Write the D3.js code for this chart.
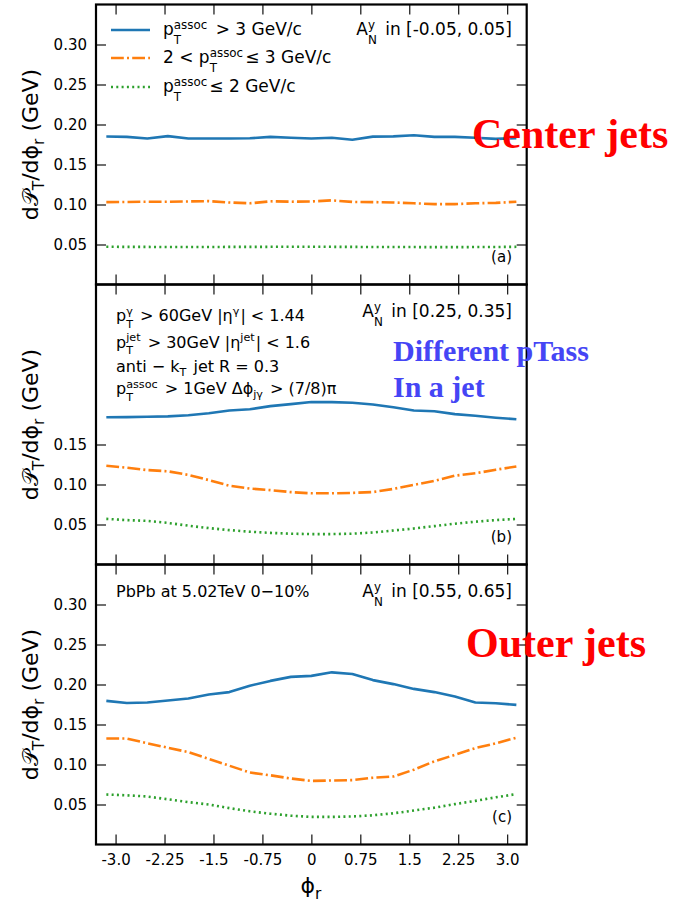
<!DOCTYPE html>
<html>
<head>
<meta charset="utf-8">
<script src="https://cdn.jsdelivr.net/npm/d3@7"></script>
<style>
  html, body { margin: 0; padding: 0; background: #fff; }
  svg text { font-family: "DejaVu Sans", sans-serif; fill: #000; }
</style>
</head>
<body>
<svg id="chart" width="692" height="902"></svg>
<script>
// phi_r sampling points (rad)
const phi = [-3.1416, -2.8274, -2.5133, -2.1991, -1.8850, -1.5708, -1.2566, -0.9425, -0.6283, -0.3142,
             0, 0.3142, 0.6283, 0.9425, 1.2566, 1.5708, 1.8850, 2.1991, 2.5133, 2.8274, 3.1416];

// (a) centre jets, A_N^y in [-0.05, 0.05]
const centerHigh = [0.1850, 0.1845, 0.1825, 0.1855, 0.1825, 0.1825, 0.1825, 0.1828, 0.1845, 0.1835, 0.1825,
                    0.1835, 0.1810, 0.1848, 0.1852, 0.1865, 0.1845, 0.1845, 0.1835, 0.1820, 0.1830];
const centerMid  = [0.1030, 0.1032, 0.1035, 0.1035, 0.1038, 0.1042, 0.1025, 0.1015, 0.1040, 0.1035, 0.1038,
                    0.1052, 0.1032, 0.1030, 0.1025, 0.1015, 0.1005, 0.1005, 0.1015, 0.1020, 0.1035];
const centerLow  = [0.0472, 0.0470, 0.0470, 0.0468, 0.0468, 0.0469, 0.0470, 0.0470, 0.0471, 0.0471, 0.0472,
                    0.0471, 0.0470, 0.0469, 0.0468, 0.0468, 0.0467, 0.0467, 0.0468, 0.0469, 0.0471];

// (b) A_N^y in [0.25, 0.35]
const midHigh = [0.1840, 0.1842, 0.1847, 0.1852, 0.1865, 0.1890, 0.1925, 0.1940, 0.1980, 0.2005, 0.2032,
                 0.2030, 0.2022, 0.2000, 0.1965, 0.1925, 0.1915, 0.1880, 0.1860, 0.1835, 0.1815];
const midMid  = [0.1235, 0.1210, 0.1180, 0.1165, 0.1120, 0.1055, 0.0985, 0.0950, 0.0930, 0.0905, 0.0890,
                 0.0890, 0.0895, 0.0905, 0.0945, 0.0995, 0.1045, 0.1110, 0.1140, 0.1185, 0.1225];
const midLow  = [0.0570, 0.0555, 0.0545, 0.0520, 0.0485, 0.0455, 0.0430, 0.0410, 0.0395, 0.0385, 0.0380,
                 0.0380, 0.0385, 0.0400, 0.0425, 0.0450, 0.0480, 0.0510, 0.0535, 0.0555, 0.0570];

// (c) outer jets, A_N^y in [0.55, 0.65]
const outerHigh = [0.1795, 0.1768, 0.1775, 0.1800, 0.1825, 0.1875, 0.1905, 0.1985, 0.2045, 0.2095, 0.2108,
                   0.2152, 0.2132, 0.2055, 0.2005, 0.1945, 0.1905, 0.1850, 0.1775, 0.1765, 0.1745];
const outerMid  = [0.1325, 0.1325, 0.1265, 0.1210, 0.1155, 0.1070, 0.0985, 0.0900, 0.0865, 0.0825, 0.0795,
                   0.0800, 0.0805, 0.0835, 0.0850, 0.0935, 0.1040, 0.1120, 0.1205, 0.1265, 0.1335];
const outerLow  = [0.0625, 0.0615, 0.0600, 0.0565, 0.0530, 0.0500, 0.0455, 0.0415, 0.0385, 0.0360, 0.0345,
                   0.0345, 0.0350, 0.0365, 0.0390, 0.0425, 0.0460, 0.0505, 0.0545, 0.0590, 0.0630];

const xTicks = [-3.0, -2.25, -1.5, -0.75, 0, 0.75, 1.5, 2.25, 3.0];
const xTickLabels = ["-3.0", "-2.25", "-1.5", "-0.75", "0", "0.75", "1.5", "2.25", "3.0"];
const yTicksFull = [0.05, 0.10, 0.15, 0.20, 0.25, 0.30];
const yTicksShort = [0.05, 0.10, 0.15];

const seriesStyles = [
  { color: "#1f77b4", dash: null },
  { color: "#ff7f0e", dash: "12.8,3.2,2,3.2" },
  { color: "#2ca02c", dash: "2,3.3" }
];

const svg = d3.select("#chart");
const left = 96, right = 526.7;
const panelH = 280;
const panelTops = [4.5, 284.5, 564.5];

const x = d3.scaleLinear().domain([-3.3, 3.3]).range([left, right]);

// Rich text drawn as one <text>: runs of plain strings or {sup, sub} scripts
function rich(g, px, py, parts, fs, anchor, subDrop) {
  const drop = subDrop || 0.5;
  const tmp = g.append("text").style("white-space", "pre");
  const measure = (str, size) => { tmp.attr("font-size", size).text(str); return tmp.node().getComputedTextLength(); };
  const pieces = [];
  let cx = 0;
  parts.forEach(p => {
    if (typeof p === "string") {
      pieces.push({ t: p, x: cx, y: 0, s: fs });
      cx += measure(p, fs);
    } else {
      let w = 0;
      const ss = fs * 0.7;
      if (p.sup) {
        pieces.push({ t: p.sup, x: cx, y: -fs * 0.38, s: ss });
        w = Math.max(w, measure(p.sup, ss));
      }
      if (p.sub) {
        // a subscript paired with a superscript sits lower
        pieces.push({ t: p.sub, x: cx, y: fs * (p.sup ? drop : 0.25), s: ss });
        w = Math.max(w, measure(p.sub, ss));
      }
      cx += w + (p.gap || 0);
    }
  });
  tmp.remove();
  let dx = 0;
  if (anchor === "end") dx = -cx;
  if (anchor === "middle") dx = -cx / 2;
  const t = g.append("text").attr("transform", `translate(${px + dx},${py})`).style("white-space", "pre");
  pieces.forEach(pc => t.append("tspan").attr("x", pc.x).attr("y", pc.y).attr("font-size", pc.s).text(pc.t));
  return t;
}

const panels = [
  { data: [centerHigh, centerMid, centerLow], yTicks: yTicksFull, tag: "(a)" },
  { data: [midHigh, midMid, midLow], yTicks: yTicksShort, tag: "(b)" },
  { data: [outerHigh, outerMid, outerLow], yTicks: yTicksFull, tag: "(c)" }
];

panels.forEach((pn, i) => {
  const top = panelTops[i], bottom = top + panelH;
  const y = d3.scaleLinear().domain([0, 0.35]).range([bottom, top]);
  const g = svg.append("g");

  const line = d3.line().x((d, k) => x(phi[k])).y(d => y(d));
  pn.data.forEach((vals, s) => {
    const st = seriesStyles[s];
    g.append("path").datum(vals).attr("d", line).attr("fill", "none")
      .attr("stroke", st.color).attr("stroke-width", 2.6)
      .attr("stroke-dasharray", st.dash).attr("stroke-linejoin", "round");
  });

  // inward ticks on all four sides
  const tl = 10;
  const axB = d3.axisBottom(x).tickValues(xTicks).tickSize(tl).tickFormat((d, k) => xTickLabels[k]);
  const gb = g.append("g").attr("transform", `translate(0,${bottom})`).call(axB);
  gb.selectAll(".tick line").attr("y2", -tl);
  if (i < 2) gb.selectAll(".tick text").remove();
  else gb.selectAll(".tick text").attr("y", 10).attr("dy", "0.71em").attr("font-size", 15)
        .attr("font-family", "DejaVu Sans");

  const gt = g.append("g").attr("transform", `translate(0,${top})`).call(d3.axisTop(x).tickValues(xTicks).tickSize(tl));
  gt.selectAll(".tick line").attr("y2", tl);
  gt.selectAll(".tick text").remove();

  const gl = g.append("g").attr("transform", `translate(${left},0)`)
    .call(d3.axisLeft(y).tickValues(pn.yTicks).tickSize(tl).tickFormat(d3.format(".2f")));
  gl.selectAll(".tick line").attr("x2", tl);
  gl.selectAll(".tick text").attr("x", -9).attr("font-size", 15).attr("font-family", "DejaVu Sans");

  const gr = g.append("g").attr("transform", `translate(${right},0)`)
    .call(d3.axisRight(y).tickValues(pn.yTicks).tickSize(tl));
  gr.selectAll(".tick line").attr("x2", -tl);
  gr.selectAll(".tick text").remove();

  g.selectAll(".domain").remove();
  g.selectAll(".tick line").attr("stroke", "#222").attr("stroke-width", 1.3);

  g.append("rect").attr("x", left).attr("y", top).attr("width", right - left).attr("height", panelH)
    .attr("fill", "none").attr("stroke", "#000").attr("stroke-width", 2.2);

  // y-axis label
  const lab = svg.append("g").attr("transform", `translate(30,${top + panelH / 2}) rotate(-90)`);
  rich(lab, 0, 8, ["d𝒫", { sub: "T" }, "/dϕ", { sub: "r" }, " (GeV)"], 22, "middle");

  // panel tag
  svg.append("text").attr("x", 512).attr("y", top + 257).attr("text-anchor", "end")
    .attr("font-size", 15).text(pn.tag);
});

// legend (panel a)
const legendLabels = [
  ["p", { sup: "assoc", sub: "T", gap: 3 }, " > 3 GeV/c"],
  ["2 < p", { sup: "assoc", sub: "T", gap: 2 }, "≤ 3 GeV/c"],
  ["p", { sup: "assoc", sub: "T", gap: 2 }, "≤ 2 GeV/c"]
];
const legendRows = [30, 58, 87];
legendLabels.forEach((lbl, s) => {
  const st = seriesStyles[s];
  svg.append("line").attr("x1", 111).attr("x2", 150).attr("y1", legendRows[s]).attr("y2", legendRows[s])
    .attr("stroke", st.color).attr("stroke-width", 2.6).attr("stroke-dasharray", st.dash);
  rich(svg, 163, legendRows[s] + 5, lbl, 17);
});

const fsA = 16;
rich(svg, 512, 35, ["A", { sup: "y", sub: "N", gap: 3 }, " in [-0.05, 0.05]"], 17, "end");
rich(svg, 512, 317, ["A", { sup: "y", sub: "N", gap: 3 }, " in [0.25, 0.35]"], 17, "end");
rich(svg, 512, 597, ["A", { sup: "y", sub: "N", gap: 3 }, " in [0.55, 0.65]"], 17, "end");
rich(svg, 116, 597, ["PbPb at 5.02TeV 0−10%"], fsA);

// selection cuts (panel b)
rich(svg, 116, 321, ["p", { sup: "γ", sub: "T", gap: 2 }, " > 60GeV |η", { sup: "γ", gap: 1 }, "| < 1.44"], fsA, null, 0.42);
rich(svg, 116, 347.5, ["p", { sup: "jet", sub: "T", gap: 2 }, " > 30GeV |η", { sup: "jet", gap: 1 }, "| < 1.6"], fsA, null, 0.42);
rich(svg, 116, 372, ["anti − k", { sub: "T", gap: 2 }, " jet R = 0.3"], fsA);
rich(svg, 116, 394, ["p", { sup: "assoc", sub: "T", gap: 2 }, " > 1GeV Δϕ", { sub: "jγ", gap: 2 }, " > (7/8)π"], fsA, null, 0.42);

// x-axis label
rich(svg, 311, 893, ["ϕ", { sub: "r" }], 22, "middle");

// overlay annotations
svg.append("text").attr("x", 472).attr("y", 148)
  .style("font-family", "'Liberation Serif', serif").attr("font-weight", "bold").attr("font-size", 42)
  .style("fill", "#ff0000").text("Center jets");
svg.append("text").attr("x", 393).attr("y", 361)
  .style("font-family", "'Liberation Serif', serif").attr("font-weight", "bold").attr("font-size", 30)
  .style("fill", "#4545f5").text("Different pTass");
svg.append("text").attr("x", 393).attr("y", 397)
  .style("font-family", "'Liberation Serif', serif").attr("font-weight", "bold").attr("font-size", 30)
  .style("fill", "#4545f5").text("In a jet");
svg.append("text").attr("x", 466).attr("y", 657)
  .style("font-family", "'Liberation Serif', serif").attr("font-weight", "bold").attr("font-size", 42)
  .style("fill", "#ff0000").text("Outer jets");
</script>
</body>
</html>
